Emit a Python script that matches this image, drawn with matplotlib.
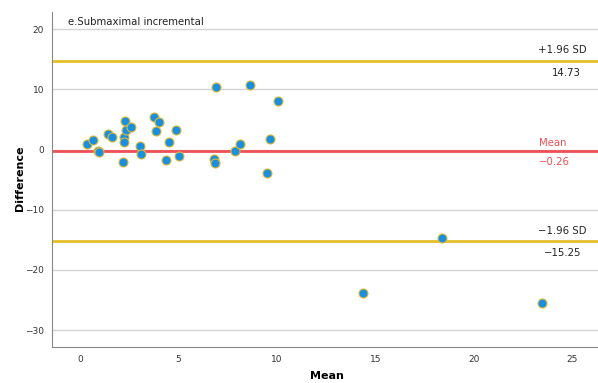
import matplotlib.pyplot as plt

# Bland-Altman data
means = [0.37, 0.68, 0.90, 0.97, 1.44, 1.61, 2.29, 2.24, 2.24, 2.32, 2.20, 2.56,
         3.05, 3.08, 3.76, 4.02, 3.85, 4.34, 4.54, 4.89, 5.02, 6.92, 6.78, 6.86,
         7.85, 8.13, 8.61, 9.66, 9.49, 10.03, 18.37, 14.39, 23.44]
diffs = [0.94, 1.55, -0.22, -0.39, 2.55, 2.16, 4.76, 2.16, 1.27, 3.21, -2.10, 3.77,
         0.67, -0.66, 5.48, 4.60, 3.05, -1.77, 1.27, 3.27, -1.10, 10.40, -1.49, -2.16,
         -0.22, 1.00, 10.80, 1.83, -3.87, 8.03, -14.72, -23.76, -25.50]
mean_diff = -0.26
upper_loa = 14.73
lower_loa = -15.25
title = "e.Submaximal incremental"

GOLD = "#E6BE2A"
RED = "#EF4F55"
BLUE = "#1A8FE0"

fig = plt.figure(figsize=(5.98, 3.83), dpi=100)
ax = fig.add_axes([0.0875, 0.094, 0.9125, 0.875])

ax.set_xlim(-1.41, 26.3)
ax.set_ylim(-32.8, 22.9)
ax.set_xticks([0, 5, 10, 15, 20, 25])
ax.set_yticks([-30, -20, -10, 0, 10, 20])
ax.grid(axis="y", color="#d4d4d4", linewidth=1.0)
ax.set_axisbelow(True)
ax.tick_params(length=0, labelsize=6.5, labelcolor="#333333", pad=6)
for s in ["top", "right"]:
    ax.spines[s].set_visible(False)
for s in ["left", "bottom"]:
    ax.spines[s].set_color("#888888")

ax.axhline(upper_loa, color=GOLD, linewidth=2, zorder=2)
ax.axhline(lower_loa, color=GOLD, linewidth=2, zorder=2)
ax.axhline(mean_diff, color=RED, linewidth=2, zorder=2)

ax.scatter(means, diffs, s=42, color=BLUE, edgecolors="#D9B93A", linewidths=0.8, zorder=3)

fs = 7.3
ax.text(-0.62, 21.2, title, fontsize=fs, color="#222222", va="center", ha="left")
ax.text(24.5, 16.56, "+1.96 SD", fontsize=fs, ha="center", va="center", color="#222222")
ax.text(24.7, 12.73, "14.73", fontsize=fs, ha="center", va="center", color="#222222")
ax.text(24.0, 1.1, "Mean", fontsize=fs, ha="center", va="center", color=RED)
ax.text(24.1, -2.05, "\u22120.26", fontsize=fs, ha="center", va="center", color=RED)
ax.text(24.5, -13.5, "\u22121.96 SD", fontsize=fs, ha="center", va="center", color="#222222")
ax.text(24.5, -17.2, "\u221215.25", fontsize=fs, ha="center", va="center", color="#222222")

fig.text(0.547, 0.017, "Mean", fontsize=8, fontweight="bold", ha="center", va="center")
fig.text(0.033, 0.535, "Difference", fontsize=8, fontweight="bold", ha="center", va="center",
         rotation=90)

fig.savefig("out.png", dpi=100)
